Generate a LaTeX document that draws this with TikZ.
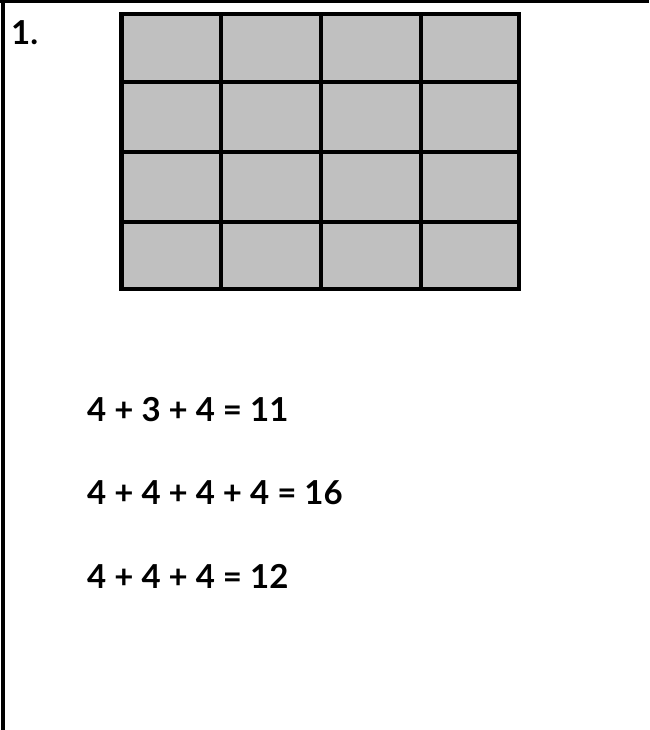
\documentclass[tikz,border=0pt]{standalone}
\usepackage{fontspec}
\setmainfont{Lato}
\definecolor{cellgray}{RGB}{192,192,192}
\tikzset{
  eqtext/.style={anchor=base west, inner sep=0pt, font=\fontsize{33}{36}\selectfont\bfseries},
  gridline/.style={line width=4.5pt, black},
  frameline/.style={line width=4pt, black}
}
\begin{document}
\begin{tikzpicture}[x=1pt,y=-1pt]
\useasboundingbox (0,0) rectangle (649,730);
% frame
\draw[line width=3pt] (0,1.5) -- (649,1.5);
\draw[frameline] (3,0) -- (3,730);
% grid
\fill[cellgray] (121.5,14) rectangle (519,289);
\foreach \x in {221,321,421} \draw[gridline] (\x,14) -- (\x,289);
\foreach \y in {82,152,222} \draw[gridline] (121.5,\y) -- (519,\y);
\draw[gridline] (121.5,14) rectangle (519,289);
% texts
\node[eqtext] (num) at (11,45) {1.};
\node[eqtext] (eqa) at (87,421) {4 + 3 + 4 = 11};
\node[eqtext] (eqb) at (87,504) {4 + 4 + 4 + 4 = 16};
\node[eqtext] (eqc) at (87,588) {4 + 4 + 4 = 12};
\end{tikzpicture}
\end{document}
